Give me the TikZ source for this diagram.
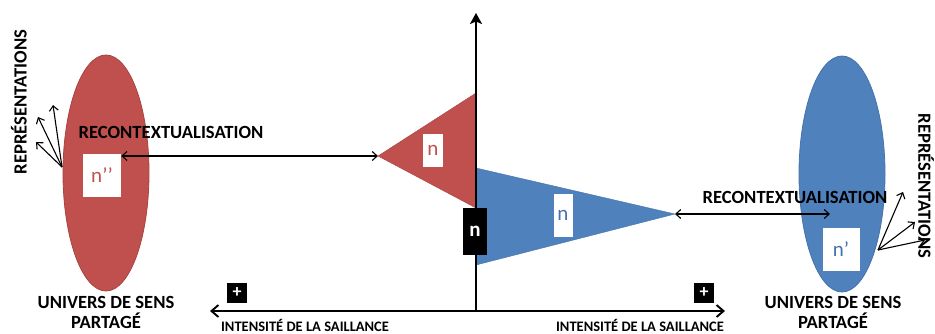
\documentclass[tikz,border=0pt]{standalone}
\usepackage{fontspec}
\setmainfont{Carlito}[BoldFont={Carlito Bold}]
\usetikzlibrary{arrows.meta,positioning,shapes.geometric}
\definecolor{redfill}{HTML}{C0504D}
\definecolor{reddraw}{HTML}{A84440}
\definecolor{bluefill}{HTML}{4F81BD}
\definecolor{bluedraw}{HTML}{4573AB}

\begin{document}
\begin{tikzpicture}[
  x=1pt, y=-1pt,
  font=\bfseries\fontsize{16}{18}\selectfont,
  axis/.style={{Straight Barb[length=7pt,width=12pt]}-{Straight Barb[length=7pt,width=12pt]}, line width=1.9pt},
  vaxis/.style={-{Stealth[length=11pt,width=12pt,inset=2.5pt]}, line width=1.9pt},
  link/.style={{Straight Barb[length=5pt,width=9pt]}-{Straight Barb[length=5pt,width=9pt]}, line width=1.1pt},
  rep/.style={-{Straight Barb[length=5pt,width=9pt]}, line width=1.1pt},
  univers/.style={ellipse, line width=0.8pt, inner sep=0pt, minimum width=86pt, minimum height=236pt},
  nbox/.style={rectangle, fill=white, inner sep=0pt, minimum width=20pt, minimum height=33pt,
               font=\fontsize{21}{21}\selectfont},
  plus/.style={rectangle, fill=black, text=white, inner sep=0pt, minimum size=20pt,
               font=\bfseries\fontsize{18}{18}\selectfont},
  axtext/.style={anchor=base, font=\bfseries\fontsize{14.5}{15}\selectfont},
  bigtext/.style={align=center, font=\bfseries\fontsize{18.6}{20}\selectfont}
]
\useasboundingbox (0,0) rectangle (935,333);

% Triangles
\coordinate (rtop) at (476,93);
\coordinate (rbot) at (476,208);
\coordinate (rtip) at (378,156);
\coordinate (btop) at (476,168);
\coordinate (bbot) at (476,265);
\coordinate (btip) at (675,214);
\fill[redfill, draw=reddraw] (rtop) -- (rtip) -- (rbot) -- cycle;
\fill[bluefill, draw=bluedraw] (btop) -- (btip) -- (bbot) -- cycle;

% Axes
\coordinate (origin) at (476,311);
\coordinate (top) at (476,13);
\coordinate (xl) at (210,311);
\coordinate (xr) at (725,311);
\draw[vaxis] (origin) -- (top);
\draw[axis] (xl) -- (xr);

\node[nbox, text=redfill] (nred) at (433,150) {n};
\node[nbox, text=bluedraw, minimum width=19pt, minimum height=43pt] (nblue) at (563,215) {n};
\node[rectangle, fill=black, text=white, inner sep=0pt, minimum width=24pt, minimum height=47pt,
      font=\bfseries\fontsize{21}{21}\selectfont] (nzero) at (475,231) {n};

\node[plus] (plusl) at (237,293) {+};
\node[plus] (plusr) at (704,293) {+};
\node[axtext] (intl) at (305,331) {INTENSITÉ DE LA SAILLANCE};
\node[axtext] (intr) at (640,331) {INTENSITÉ DE LA SAILLANCE};

% Left column
\node[univers, fill=redfill, draw=reddraw] (uL) at (106,173) {};
\node[nbox, text=redfill, minimum width=38pt, minimum height=43pt] (npp) at (102,175) {n’’};
\node[bigtext] (recl) at (171,132) {RECONTEXTUALISATION};
\node[bigtext] (unil) at (106,312) {UNIVERS DE SENS\\PARTAGÉ};
\node[bigtext, rotate=90] (repl) at (19,102) {REPRÉSENTATIONS};
\coordinate (lrep) at (62,167);
\foreach \p in {(53,105), (38,117), (36,142)}
  \draw[rep] (lrep) -- \p;

% Right column
\node[univers, fill=bluefill, draw=bluedraw] (uR) at (842,174) {};
\node[nbox, text=bluedraw, minimum width=37pt, minimum height=43pt] (np) at (841,249) {n’};
\node[bigtext] (recr) at (795,197) {RECONTEXTUALISATION};
\node[bigtext] (unir) at (833,312) {UNIVERS DE SENS\\PARTAGÉ};
\node[bigtext, rotate=-90] (repr) at (926,186) {REPRÉSENTATIONS};
\coordinate (rrep) at (878,250);
\foreach \p in {(903,192), (915,222), (925,240)}
  \draw[rep] (rrep) -- \p;

% Links
\coordinate (rend) at (830,214);
\draw[link] (npp.east |- rtip) -- (rtip);
\draw[link] (btip) -- (rend);

\end{tikzpicture}
\end{document}
